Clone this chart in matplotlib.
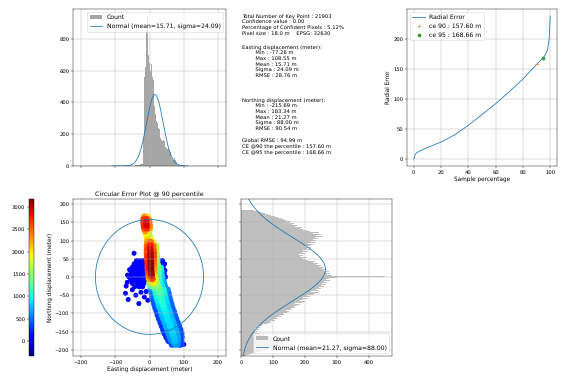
import numpy as np
import matplotlib
matplotlib.use("Agg")
import matplotlib.pyplot as plt

plt.rcParams["text.hinting"] = "no_hinting"

# ---------------- data ----------------
n_points = 21903
east_min, east_max, east_mean, east_sigma = -77.26, 108.55, 15.71, 24.09
north_min, north_max, north_mean, north_sigma = -215.69, 183.34, 21.27, 88.00
ce90, ce95 = 157.60, 168.66

east_counts = [
    1, 0, 0, 1, 0, 0, 1, 0, 0, 1,
    0, 1, 0, 1, 1, 0, 1, 2, 1, 1,
    2, 1, 2, 3, 2, 3, 4, 3, 5, 4,
    5, 6, 5, 7, 6, 8, 7, 9, 8, 10,
    10, 12, 11, 13, 12, 14,
    15, 60, 180, 380,
    560, 680, 620, 760, 720, 850, 800, 940,
    780, 880, 700, 820, 650, 760, 600, 700,
    560, 640, 520, 560, 480, 540, 430, 470, 380, 420,
    330, 350, 280, 300, 250, 270, 215, 240, 200, 230,
    185, 215, 175, 200, 165, 185, 155, 175, 145, 165,
    140, 160, 130, 150, 120, 140, 115, 130, 105, 120,
    95, 110, 85, 100, 75, 90, 60, 70, 50, 65,
    40, 50, 35, 60, 30, 48, 22, 38, 18, 28,
    12, 22, 9, 14, 6,
    6, 4, 8, 3, 5, 2, 4, 3, 2, 1, 3, 1, 2, 1, 1, 0, 1, 0, 1,
]

north_counts = [
    15, 25, 35, 50, 60, 75, 85, 95, 100, 110,
    120, 130, 125, 140, 130, 135, 120, 115, 100, 90,
    75, 60, 55, 45, 50, 40, 55, 45, 60, 50,
    65, 75, 70, 85, 95, 90, 105, 100, 115, 110,
    125, 120, 135, 130, 145, 150, 140, 160, 155, 170,
    165, 175, 185, 170, 190, 200, 185, 195, 210, 195,
    215, 205, 225, 210, 230, 240, 220, 245, 235, 250,
    245, 260, 250, 265, 255, 270, 260, 280, 265, 275,
    300, 450, 285, 270, 280, 265, 275, 260, 270, 255,
    260, 245, 250, 235, 240, 225, 215, 230, 210, 200,
    190, 205, 185, 195, 180, 200, 190, 210, 195, 215,
    205, 220, 200, 215, 225, 210, 230, 220, 235, 225,
    240, 230, 255, 235, 250, 225, 245, 215, 230, 205,
    195, 185, 190, 170, 175, 160, 165, 150, 155, 140,
    135, 125, 115, 105, 95, 85, 75, 65, 55, 40,
]

radial_pct = [0, 1, 2, 5, 10, 20, 30, 40, 50, 60, 70, 80, 90, 95, 97, 98, 99, 99.5, 100]
radial_err = [0, 7, 10, 14, 19, 28, 40, 56, 74, 92, 112, 133, 157.6, 168.66, 176, 182, 195, 210, 238]

# blue cluster (low density)
cluster_x = [-38, -28, -18, -8, 28, 38,
             -45, -35, -25, -15, -5, 25, 33, 44,
             -50, -40, -30, -20, -10, 30, 40,
             -56, -46, -36, -26, -16, 33, 45,
             -53, -43, -33, -23, -13, 36, 43,
             -60, -48, -38, -28, -18, 39, 47,
             -55, -45, -33, -22, -12, 42,
             -50, -36, -26, -16, 44,
             -43, -30, -20,
             -45, -65, -68, -70, -62, -31, -15, -5, -40, -25, -10, -58, -64, -50, 100]
cluster_y = [45, 45, 45, 45, 45, 45,
             36, 36, 36, 36, 36, 36, 36, 36,
             27, 27, 27, 27, 27, 27, 27,
             18, 18, 18, 18, 18, 18, 18,
             9, 9, 9, 9, 9, 9, 9,
             0, 0, 0, 0, 0, 0, 0,
             -9, -9, -9, -9, -9, -9,
             -18, -18, -18, -18, -18,
             -27, -27, -27,
             65, -15, -25, -45, -62, -73, -55, -64, -50, -42, -40, 20, 5, -35, -185]
cluster_d = [110, 120, 130, 140, 160, 150,
             100, 110, 120, 130, 140, 170, 160, 140,
             100, 110, 120, 130, 150, 170, 150,
             90, 100, 110, 120, 140, 180, 160,
             90, 100, 110, 120, 140, 190, 160,
             90, 100, 110, 120, 150, 200, 170,
             90, 100, 110, 130, 150, 180,
             90, 100, 110, 130, 180,
             90, 100, 110,
             90, 80, 80, 80, 80, 80, 90, 90, 90, 100, 110, 80, 80, 90, 80]

# main band (denser points)
band_x = [-15, -7,
          -17, -9, -2,
          -17, -9, -1,
          -16, -8, 0,
          -15, -7, 1,
          -12, -4,
          -10, -2,
          -8, 1,
          -6, 3,
          -6, 3, 10,
          -7, 2, 11, 18,
          -7, 2, 11, 19,
          -7, 3, 12, 20,
          -6, 3, 12, 21,
          -6, 3, 12, 22,
          -5, 4, 13, 23,
          -5, 4, 13, 24, 32,
          -4, 5, 14, 25, 34,
          -3, 6, 15, 26, 35,
          -1, 8, 17, 28, 37,
          1, 11, 21, 31, 40,
          3, 14, 25, 35, 44,
          4, 16, 28, 40, 52,
          7, 19, 31, 43, 55,
          9, 21, 33, 45, 57,
          12, 24, 36, 48, 60,
          15, 27, 39, 51, 63,
          18, 30, 42, 54, 66,
          22, 34, 46, 58, 70,
          25, 37, 49, 61, 73,
          29, 41, 53, 65, 77,
          33, 45, 57, 69, 81,
          37, 49, 61, 73, 85,
          41, 53, 65, 77, 89,
          45, 56, 68, 80, 92,
          50, 60, 71, 82, 93,
          56, 65, 74, 83, 92,
          66, 74, 82, 90]
band_y = [165, 165,
          158, 158, 158,
          150, 150, 150,
          142, 142, 142,
          134, 134, 134,
          126, 126,
          118, 118,
          110, 110,
          102, 102,
          95, 95, 95,
          85, 85, 85, 85,
          75, 75, 75, 75,
          65, 65, 65, 65,
          55, 55, 55, 55,
          45, 45, 45, 45,
          35, 35, 35, 35,
          25, 25, 25, 25, 25,
          15, 15, 15, 15, 15,
          5, 5, 5, 5, 5,
          -5, -5, -5, -5, -5,
          -15, -15, -15, -15, -15,
          -25, -25, -25, -25, -25,
          -35, -35, -35, -35, -35,
          -45, -45, -45, -45, -45,
          -55, -55, -55, -55, -55,
          -65, -65, -65, -65, -65,
          -75, -75, -75, -75, -75,
          -85, -85, -85, -85, -85,
          -95, -95, -95, -95, -95,
          -105, -105, -105, -105, -105,
          -115, -115, -115, -115, -115,
          -125, -125, -125, -125, -125,
          -135, -135, -135, -135, -135,
          -145, -145, -145, -145, -145,
          -155, -155, -155, -155, -155,
          -165, -165, -165, -165, -165,
          -175, -175, -175, -175, -175,
          -185, -185, -185, -185]
band_d = [2300, 2000,
          2600, 2700, 2200,
          2700, 2900, 2400,
          2700, 2900, 2400,
          2600, 2700, 2200,
          2300, 1900,
          1900, 1600,
          1900, 1700,
          2100, 1900,
          2300, 2500, 2000,
          2500, 2800, 2400, 1700,
          2600, 2900, 2500, 1700,
          2600, 3000, 2600, 1600,
          2700, 3050, 2600, 1600,
          2700, 3100, 2500, 1500,
          2700, 3150, 2400, 1500,
          2700, 3150, 2300, 1400, 1000,
          2600, 3100, 2200, 1300, 900,
          2500, 3000, 2000, 1200, 850,
          2200, 2600, 1800, 1100, 800,
          1700, 2000, 1600, 1000, 700,
          1200, 1500, 1400, 900, 600,
          500, 1100, 1300, 1000, 550,
          450, 1000, 1200, 950, 500,
          420, 950, 1100, 900, 480,
          400, 900, 1050, 850, 460,
          380, 850, 1000, 820, 450,
          360, 800, 950, 800, 440,
          340, 780, 920, 780, 430,
          320, 760, 900, 760, 420,
          300, 740, 880, 740, 410,
          290, 720, 860, 720, 400,
          280, 700, 850, 700, 390,
          260, 660, 830, 680, 370,
          250, 640, 820, 660, 360,
          260, 620, 800, 640, 350,
          300, 600, 760, 600, 330,
          350, 650, 600, 320]

density_min, density_max = -336, 3180

text_general = ("Total Number of Key Point : 21903\n"
                "Confidence value : 0.00\n"
                "Percentage of Confident Pixels : 5.12%\n"
                "Pixel size : 18.0 m    EPSG: 32630")
text_east = ("Easting displacement (meter):\n"
             "        Min : -77.26 m\n"
             "        Max : 108.55 m\n"
             "        Mean : 15.71 m\n"
             "        Sigma : 24.09 m\n"
             "        RMSE : 28.76 m")
text_north = ("Northing displacement (meter):\n"
              "        Min : -215.69 m\n"
              "        Max : 183.34 m\n"
              "        Mean : 21.27 m\n"
              "        Sigma : 88.00 m\n"
              "        RMSE : 90.54 m")
text_global = ("Global RMSE : 94.99 m\n"
               "CE @90 the percentile : 157.60 m\n"
               "CE @95 the percentile : 168.66 m")

# ---------------- figure ----------------
W, H = 570, 379
dpi = 38
fig = plt.figure(figsize=(W / dpi, H / dpi), dpi=dpi)

def rect(l, t, r, b):
    return [l / W, 1 - b / H, (r - l) / W, (b - t) / H]

ax_hx = fig.add_axes(rect(73, 9, 226, 166))
ax_re = fig.add_axes(rect(407, 9, 557, 166))
ax_sc = fig.add_axes(rect(73, 199, 226, 356))
ax_hy = fig.add_axes(rect(241, 199, 392, 356))
cax = fig.add_axes(rect(29, 199, 33.5, 356))

xlim = (-223, 223)
ylim = (-217, 214)
lab_fs = 11
leg_fs = 11.5

# top-left easting histogram
e_edges = np.linspace(east_min, east_max, len(east_counts) + 1)
e_centers = 0.5 * (e_edges[:-1] + e_edges[1:])
ax_hx.hist(e_centers, bins=e_edges, weights=east_counts, label="Count", color="gray", alpha=0.7)
e_bw = e_edges[1] - e_edges[0]
xs = np.linspace(-110, 112, 400)
ax_hx.plot(xs, n_points * e_bw * np.exp(-0.5 * ((xs - east_mean) / east_sigma) ** 2) / (east_sigma * np.sqrt(2 * np.pi)),
           color="C0", label="Normal (mean=%.2f, sigma=%.2f)" % (east_mean, east_sigma))
ax_hx.set_xlim(xlim)
ax_hx.set_xticks([-200, -100, 0, 100, 200])
ax_hx.tick_params(labelbottom=False)
ax_hx.grid(True)
ax_hx.legend(loc="upper right", fontsize=leg_fs)

# radial error
ax_re.plot(radial_pct, radial_err, color="C0", label="Radial Error")
ax_re.plot([90], [ce90], "+", color="C1", label="ce 90 : %.2f m" % ce90)
ax_re.plot([95], [ce95], "o", color="C2", label="ce 95 : %.2f m" % ce95)
ax_re.set_xlabel("Sample percentage", fontsize=lab_fs)
ax_re.set_ylabel("Radial Error", fontsize=lab_fs)
ax_re.grid(True)
ax_re.legend(loc="upper left", fontsize=leg_fs)

# scatter
n_cl = min(len(cluster_x), len(cluster_y), len(cluster_d))
ax_sc.scatter(cluster_x[:n_cl], cluster_y[:n_cl], c=cluster_d[:n_cl], cmap="jet",
              vmin=density_min, vmax=density_max, s=90, linewidths=0)
n_band = min(len(band_x), len(band_y), len(band_d))
bx = np.array(band_x[:n_band], dtype=float)
by = np.array(band_y[:n_band], dtype=float)
bd = np.array(band_d[:n_band], dtype=float)
order = np.argsort(bd, kind="stable")
sc = ax_sc.scatter(bx[order], by[order], c=bd[order], cmap="jet", vmin=density_min, vmax=density_max,
                   s=170, linewidths=0)
t = np.linspace(0, 2 * np.pi, 400)
ax_sc.plot(ce90 * np.cos(t), ce90 * np.sin(t), color="C0")
ax_sc.set_xlim(xlim)
ax_sc.set_ylim(ylim)
ax_sc.set_xticks([-200, -100, 0, 100, 200])
ax_sc.set_xlabel("Easting displacement (meter)", fontsize=lab_fs)
ax_sc.set_ylabel("Northing displacement (meter)", fontsize=lab_fs)
ax_sc.set_title("Circular Error Plot @ 90 percentile")
ax_sc.grid(True)

cb = fig.colorbar(sc, cax=cax)
cax.yaxis.set_ticks_position("left")
cb.set_ticks([0, 500, 1000, 1500, 2000, 2500, 3000])

# right northing histogram
n_edges = np.linspace(north_min, north_max, len(north_counts) + 1)
n_centers = 0.5 * (n_edges[:-1] + n_edges[1:])
ax_hy.hist(n_centers, bins=n_edges, weights=north_counts, orientation="horizontal", label="Count",
           color="gray", alpha=0.5)
n_bw = n_edges[1] - n_edges[0]
ys = np.linspace(ylim[0], ylim[1], 400)
ax_hy.plot(n_points * n_bw * np.exp(-0.5 * ((ys - north_mean) / north_sigma) ** 2) / (north_sigma * np.sqrt(2 * np.pi)), ys,
           color="C0", label="Normal (mean=%.2f, sigma=%.2f)" % (north_mean, north_sigma))
ax_hy.set_ylim(ylim)
ax_hy.set_yticks([-200, -150, -100, -50, 0, 50, 100, 150, 200])
ax_hy.tick_params(labelleft=False)
ax_hy.grid(True)
ax_hy.legend(loc="lower right", fontsize=leg_fs)

# text block
fig.text(242 / W, 1 - 14 / H, text_general, va="top", ha="left")
fig.text(242 / W, 1 - 45 / H, text_east, va="top", ha="left")
fig.text(242 / W, 1 - 98 / H, text_north, va="top", ha="left")
fig.text(242 / W, 1 - 138.5 / H, text_global, va="top", ha="left")

fig.savefig("out.png", dpi=dpi)
